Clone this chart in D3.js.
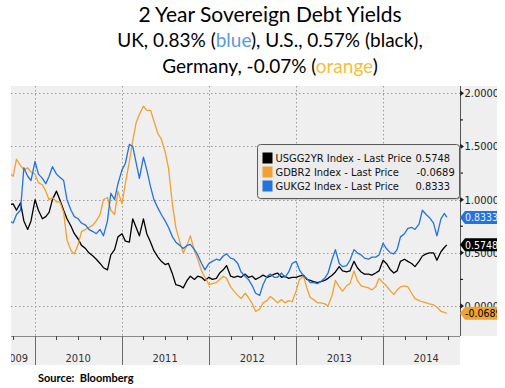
<!DOCTYPE html>
<html>
<head>
<meta charset="utf-8">
<script src="https://cdn.jsdelivr.net/npm/d3@7"></script>
<style>
  body { margin: 0; background: #fff; }
  svg { display: block; }
</style>
</head>
<body>
<div id="chart"></div>
<script>
// --- Data (semi-monthly readings, % yield) ---
const dates = [
  "2009-09-15","2009-10-01","2009-10-15","2009-11-01","2009-11-15","2009-12-01","2009-12-15",
  "2010-01-01","2010-01-15","2010-02-01","2010-02-15","2010-03-01","2010-03-15","2010-04-01","2010-04-15",
  "2010-05-01","2010-05-15","2010-06-01","2010-06-15","2010-07-01","2010-07-15","2010-08-01","2010-08-15",
  "2010-09-01","2010-09-15","2010-10-01","2010-10-15","2010-11-01","2010-11-15","2010-12-01","2010-12-15",
  "2011-01-01","2011-01-15","2011-02-01","2011-02-15","2011-03-01","2011-03-15","2011-04-01","2011-04-15",
  "2011-05-01","2011-05-15","2011-06-01","2011-06-15","2011-07-01","2011-07-15","2011-08-01","2011-08-15",
  "2011-09-01","2011-09-15","2011-10-01","2011-10-15","2011-11-01","2011-11-15","2011-12-01","2011-12-15",
  "2012-01-01","2012-01-15","2012-02-01","2012-02-15","2012-03-01","2012-03-15","2012-04-01","2012-04-15",
  "2012-05-01","2012-05-15","2012-06-01","2012-06-15","2012-07-01","2012-07-15","2012-08-01","2012-08-15",
  "2012-09-01","2012-09-15","2012-10-01","2012-10-15","2012-11-01","2012-11-15","2012-12-01","2012-12-15",
  "2013-01-01","2013-01-15","2013-02-01","2013-02-15","2013-03-01","2013-03-15","2013-04-01","2013-04-15",
  "2013-05-01","2013-05-15","2013-06-01","2013-06-15","2013-07-01","2013-07-15","2013-08-01","2013-08-15",
  "2013-09-01","2013-09-15","2013-10-01","2013-10-15","2013-11-01","2013-11-15","2013-12-01","2013-12-15",
  "2014-01-01","2014-01-15","2014-02-01","2014-02-15","2014-03-01","2014-03-15","2014-04-01","2014-04-15",
  "2014-05-01","2014-05-15","2014-06-01","2014-06-15","2014-07-01","2014-07-15","2014-08-01","2014-08-15",
  "2014-09-01","2014-09-15","2014-09-26"
];

const usYield = [
  0.95,0.96,0.90,0.97,0.80,0.72,0.80,
  1.00,0.90,0.82,0.84,0.88,1.00,1.08,1.00,0.90,0.82,0.75,0.68,0.63,0.57,0.54,0.50,0.47,0.44,0.40,0.36,0.34,0.48,0.53,0.65,
  0.68,0.61,0.60,0.82,0.74,0.66,0.82,0.68,0.60,0.52,0.46,0.42,0.39,0.40,0.30,0.20,0.19,0.17,0.24,0.28,0.25,0.28,0.27,0.24,
  0.27,0.25,0.26,0.31,0.34,0.38,0.28,0.27,0.28,0.27,0.30,0.27,0.28,0.25,0.27,0.29,0.27,0.28,0.30,0.31,0.27,0.28,0.26,0.27,
  0.27,0.28,0.29,0.25,0.24,0.23,0.22,0.23,0.24,0.26,0.29,0.32,0.37,0.33,0.32,0.33,0.42,0.36,0.32,0.30,0.30,0.29,0.31,0.33,
  0.43,0.40,0.34,0.31,0.33,0.42,0.44,0.42,0.40,0.37,0.42,0.47,0.49,0.50,0.50,0.43,0.51,0.55,0.5748
];

const deYield = [
  1.25,1.22,1.38,1.32,1.28,1.30,1.26,
  1.24,1.16,1.14,1.08,1.00,1.02,0.98,0.98,0.88,0.62,0.52,0.49,0.58,0.70,0.72,0.74,0.76,0.80,0.86,1.00,1.02,0.90,0.86,1.08,
  0.96,1.15,1.36,1.55,1.72,1.80,1.88,1.84,1.84,1.74,1.62,1.57,1.45,1.30,0.95,0.74,0.60,0.50,0.57,0.66,0.52,0.44,0.33,0.27,
  0.20,0.21,0.22,0.25,0.28,0.26,0.18,0.14,0.10,0.07,0.12,0.08,0.02,-0.05,-0.03,0.03,0.05,0.09,0.06,0.03,0.06,0.03,0.05,0.04,
  0.14,0.25,0.28,0.17,0.08,0.06,0.03,0.03,0.02,0.00,0.10,0.24,0.18,0.14,0.19,0.21,0.33,0.24,0.19,0.18,0.17,0.15,0.18,0.26,
  0.22,0.19,0.14,0.11,0.15,0.18,0.19,0.18,0.12,0.07,0.05,0.04,0.03,0.02,0.01,-0.01,-0.05,-0.06,-0.0689
];

const ukYield = [
  0.80,0.78,0.86,0.90,1.30,1.22,1.18,
  1.36,1.24,1.20,1.15,1.22,1.31,1.24,1.21,1.18,1.00,0.90,0.84,0.82,0.78,0.76,0.72,0.70,0.68,0.72,0.66,0.80,1.06,1.00,1.15,
  1.28,1.34,1.52,1.50,1.35,1.20,1.40,1.28,1.12,1.00,0.92,0.86,0.80,0.74,0.65,0.60,0.57,0.54,0.57,0.58,0.53,0.48,0.40,0.34,
  0.40,0.42,0.44,0.43,0.47,0.49,0.45,0.44,0.40,0.32,0.28,0.25,0.19,0.12,0.10,0.20,0.28,0.30,0.27,0.27,0.31,0.27,0.32,0.40,
  0.42,0.34,0.28,0.26,0.22,0.22,0.21,0.23,0.26,0.31,0.44,0.53,0.40,0.37,0.38,0.43,0.53,0.50,0.48,0.45,0.44,0.46,0.46,0.48,
  0.59,0.54,0.50,0.49,0.53,0.65,0.68,0.73,0.74,0.72,0.77,0.90,0.86,0.83,0.78,0.66,0.82,0.87,0.8333
];

const seriesNames = ["USGG2YR Index", "GDBR2 Index", "GUKG2 Index"];
const seriesColors = ["#000000", "#f0a132", "#2472dc"];
const tagTextColors = ["#ffffff", "#000000", "#e4eeff"];
const lastPrices = [0.5748, -0.0689, 0.8333];
const yTicks = [0, 0.5, 1, 1.5, 2];
const yearLabels = ["2009", "2010", "2011", "2012", "2013", "2014"];

// --- Layout ---
const width = 505, height = 388;
const plot = { left: 11, right: 460, top: 86, bottom: 336 };
const labelBottom = 365, panelRight = 497;
const axisFont = "'DejaVu Sans Condensed', 'Liberation Sans Narrow', 'Roboto', sans-serif";
const titleFont = "Lato, 'Open Sans', sans-serif";

const svg = d3.select("#chart").append("svg")
  .attr("width", width)
  .attr("height", height);

const parseDate = d3.timeParse("%Y-%m-%d");
const dateObjs = dates.map(parseDate);
const allValues = [usYield, deYield, ukYield];

const series = seriesNames.map((name, k) => ({
  name,
  color: seriesColors[k],
  last: lastPrices[k],
  points: dateObjs.map((d, i) => ({ date: d, v: allValues[k][i] }))
}));

const x = d3.scaleTime()
  .domain([new Date(2009, 8, 22), new Date(2014, 10, 20)])
  .range([plot.left, plot.right]);
const y = d3.scaleLinear()
  .domain([0, 2])
  .range([306, 93.3]);

// --- Panels ---
svg.append("rect")
  .attr("x", plot.left).attr("y", plot.top)
  .attr("width", panelRight - plot.left).attr("height", plot.bottom - plot.top)
  .attr("fill", "#efefef");
svg.append("rect")
  .attr("x", plot.left).attr("y", plot.bottom)
  .attr("width", plot.right - plot.left).attr("height", labelBottom - plot.bottom)
  .attr("fill", "#efefef");

svg.append("clipPath").attr("id", "plot-clip")
  .append("rect")
  .attr("x", plot.left).attr("y", plot.top)
  .attr("width", plot.right - plot.left).attr("height", plot.bottom - plot.top);
svg.append("clipPath").attr("id", "label-clip")
  .append("rect")
  .attr("x", plot.left).attr("y", plot.bottom)
  .attr("width", plot.right - plot.left).attr("height", labelBottom - plot.bottom);

// --- Gridlines ---
const yearStarts = d3.timeYear.range(new Date(2010, 0, 1), new Date(2015, 0, 1));
const grid = svg.append("g").attr("stroke", "#9a9a9a").attr("stroke-dasharray", "1.5,2.5");
grid.selectAll(".vgrid").data(yearStarts).enter().append("line")
  .attr("x1", d => Math.round(x(d)) + 0.5).attr("x2", d => Math.round(x(d)) + 0.5)
  .attr("y1", plot.top).attr("y2", plot.bottom);
grid.selectAll(".hgrid").data(yTicks).enter().append("line")
  .attr("x1", plot.left).attr("x2", plot.right)
  .attr("y1", d => Math.round(y(d)) + 0.5).attr("y2", d => Math.round(y(d)) + 0.5);

// --- Lines ---
const line = d3.line().x(d => x(d.date)).y(d => y(d.v));
svg.append("g").attr("clip-path", "url(#plot-clip)")
  .selectAll("path").data(series).enter().append("path")
  .attr("d", d => line(d.points))
  .attr("fill", "none")
  .attr("stroke", d => d.color)
  .attr("stroke-width", 1.3)
  .attr("stroke-linejoin", "round");

// --- Bottom axis ---
svg.append("line")
  .attr("x1", plot.left).attr("x2", plot.right)
  .attr("y1", plot.bottom + 0.5).attr("y2", plot.bottom + 0.5)
  .attr("stroke", "#8a8a8a");
svg.selectAll(".year-line").data(yearStarts).enter().append("line")
  .attr("x1", d => Math.round(x(d)) + 0.5).attr("x2", d => Math.round(x(d)) + 0.5)
  .attr("y1", plot.bottom).attr("y2", labelBottom)
  .attr("stroke", "#6a6a6a");
const quarters = d3.timeMonth.every(3).range(x.domain()[0], x.domain()[1])
  .filter(d => d.getMonth() !== 0);
svg.selectAll(".qtick").data(quarters).enter().append("line")
  .attr("x1", d => Math.round(x(d)) + 0.5).attr("x2", d => Math.round(x(d)) + 0.5)
  .attr("y1", plot.bottom).attr("y2", plot.bottom + 4)
  .attr("stroke", "#444");

svg.append("g").attr("clip-path", "url(#label-clip)")
  .selectAll("text").data(yearLabels).enter().append("text")
  .attr("x", (d, i) => i === 0 ? x(new Date(2010, 0, 1)) - 7 : x(new Date(+d, 6, 1)))
  .attr("y", 362)
  .attr("text-anchor", (d, i) => i === 0 ? "end" : "middle")
  .attr("font-family", axisFont)
  .attr("font-size", 11)
  .attr("fill", "#333")
  .text(d => d);

// --- Right axis ---
svg.append("line")
  .attr("x1", plot.right + 0.5).attr("x2", plot.right + 0.5)
  .attr("y1", plot.top).attr("y2", plot.bottom)
  .attr("stroke", "#555");
const minorTicks = d3.range(0, 2.01, 0.25).filter(v => !yTicks.includes(v));
svg.selectAll(".ymin").data(minorTicks).enter().append("line")
  .attr("x1", plot.right).attr("x2", plot.right + 3)
  .attr("y1", d => y(d)).attr("y2", d => y(d))
  .attr("stroke", "#222").attr("stroke-width", 1.2);
svg.selectAll(".ytri").data(yTicks).enter().append("path")
  .attr("d", d => `M${plot.right},${y(d) - 3}L${plot.right + 4},${y(d)}L${plot.right},${y(d) + 3}Z`)
  .attr("fill", "#222");
svg.selectAll(".ylab").data(yTicks).enter().append("text")
  .attr("x", plot.right + 4.5)
  .attr("y", d => y(d))
  .attr("dy", "0.36em")
  .attr("font-family", axisFont)
  .attr("font-size", 11)
  .attr("fill", "#222")
  .text(d => d.toFixed(4));

// --- Last price tags ---
const tags = svg.append("g").selectAll("g").data(series).enter().append("g")
  .attr("transform", d => `translate(0,${y(d.last)})`);
tags.append("path")
  .attr("d", `M${plot.right},0L${plot.right + 5},-6.5L${panelRight + 2},-6.5L${panelRight + 2},6.5L${plot.right + 5},6.5Z`)
  .attr("fill", d => d.color);
tags.append("text")
  .attr("x", plot.right + 5)
  .attr("dy", "0.36em")
  .attr("font-family", axisFont)
  .attr("font-size", 10.5)
  .attr("fill", (d, i) => tagTextColors[i])
  .text(d => d.last.toFixed(4));
svg.append("rect")
  .attr("x", panelRight).attr("y", plot.top)
  .attr("width", width - panelRight).attr("height", height - plot.top)
  .attr("fill", "#fff");

// --- Legend ---
const legend = svg.append("g").attr("transform", "translate(257.5,144.5)");
legend.append("rect")
  .attr("x", 1).attr("y", 1).attr("width", 202).attr("height", 54).attr("rx", 3)
  .attr("fill", "#b5b5b5");
legend.append("rect")
  .attr("width", 202).attr("height", 54).attr("rx", 3)
  .attr("fill", "#ececec").attr("stroke", "#5a5a5a");
const rows = legend.selectAll(".row").data(series).enter().append("g")
  .attr("transform", (d, i) => `translate(0,${13.5 + i * 14})`);
rows.append("rect")
  .attr("x", 5).attr("y", -5.5).attr("width", 10).attr("height", 11)
  .attr("fill", d => d.color);
rows.append("text")
  .attr("x", 18).attr("dy", "0.36em")
  .attr("font-family", axisFont).attr("font-size", 11).attr("fill", "#111")
  .text(d => `${d.name} - Last Price`);
rows.append("text")
  .attr("x", d => d.last < 0 ? 159 : 158).attr("dy", "0.36em")
  .attr("font-family", axisFont).attr("font-size", 11).attr("fill", "#111")
  .text(d => d.last.toFixed(4));

// --- Titles ---
svg.append("text")
  .attr("x", 270).attr("y", 21.5)
  .attr("text-anchor", "middle")
  .attr("font-family", titleFont).attr("font-size", 21)
  .text("2 Year Sovereign Debt Yields");

const sub1 = svg.append("text")
  .attr("x", 270).attr("y", 47)
  .attr("text-anchor", "middle")
  .attr("font-family", titleFont).attr("font-size", 19);
sub1.append("tspan").text("UK, 0.83% (");
sub1.append("tspan").attr("fill", "#5b9bd5").text("blue");
sub1.append("tspan").text("), U.S., 0.57% (black),");

const sub2 = svg.append("text")
  .attr("x", 270).attr("y", 72.5)
  .attr("text-anchor", "middle")
  .attr("font-family", titleFont).attr("font-size", 19);
sub2.append("tspan").text("Germany, -0.07% (");
sub2.append("tspan").attr("fill", "#f5bf3a").text("orange");
sub2.append("tspan").text(")");

svg.append("text")
  .attr("x", 38).attr("y", 382)
  .attr("font-family", titleFont).attr("font-size", 11).attr("font-weight", "bold")
  .style("white-space", "pre")
  .text("Source:  Bloomberg");
</script>
</body>
</html>
